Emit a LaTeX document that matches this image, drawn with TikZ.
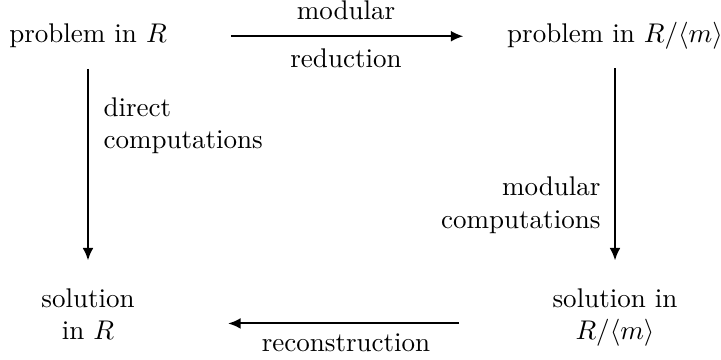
\documentclass[tikz,border=0pt]{standalone}
\usetikzlibrary{arrows.meta}
\begin{document}
\begin{tikzpicture}[x=0.37pt,y=-0.37pt,
  lbl/.style={inner sep=0pt},
  arr/.style={line width=0.72pt,-{Latex[length=4.6pt,width=4pt]}},
  txt/.style={inner sep=0pt,align=center}]
\useasboundingbox (0,0) rectangle (721,360);
\node[txt,anchor=base] (A) at (88,43) {problem in $R$};
\node[txt,anchor=base] (B) at (615,43) {problem in $R/\langle m\rangle$};
\node[txt,anchor=north] (C) at (88,288) {solution\\in $R$};
\node[txt,anchor=north] (D) at (615,288) {solution in\\$R/\langle m\rangle$};
\draw[arr,shorten <=23.5pt,shorten >=16pt] (A.east) -- (A.east -| B.west);
\node[lbl,anchor=base] (t1) at (346,20) {modular};
\node[lbl,anchor=base] (t2) at (346,68) {reduction};
\draw[arr,shorten <=7.4pt,shorten >=10.2pt] (A.south) -- (C.north);
\node[lbl,anchor=base west,align=left] (l1) at (103,149) {direct\\computations};
\draw[arr,shorten <=6.7pt,shorten >=10.2pt] (B.south) -- (D.north);
\node[lbl,anchor=base east,align=right] (r1) at (601,228) {modular\\computations};
\coordinate (dw) at ([yshift=-2.2pt]D.west);
\draw[arr,shorten <=34.4pt,shorten >=34.4pt] (dw) -- (dw -| C.east);
\node[lbl,anchor=base] (b1) at (346,351) {reconstruction};
\end{tikzpicture}
\end{document}
